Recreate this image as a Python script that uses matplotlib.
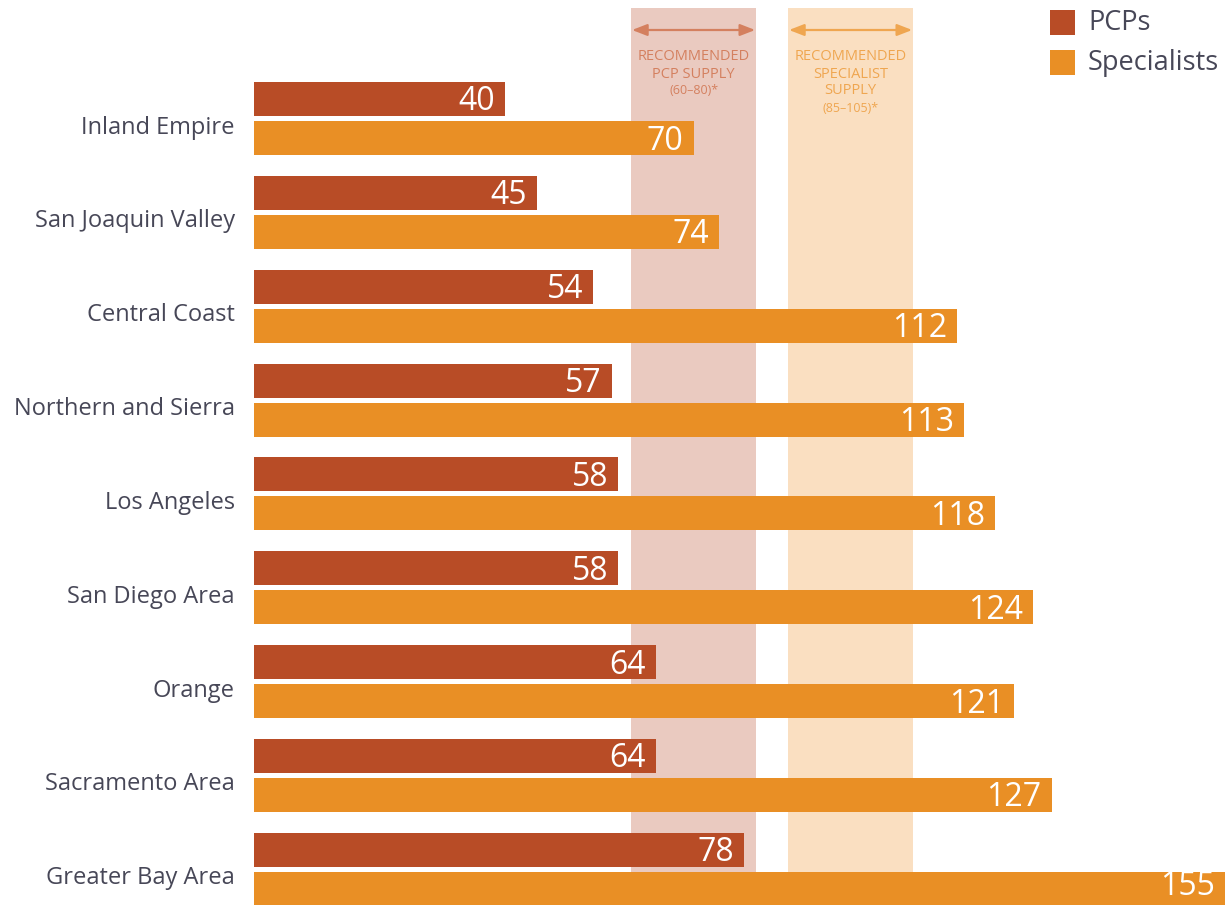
import matplotlib.pyplot as plt
from matplotlib.patches import Rectangle

plt.rcParams['font.family'] = ['Open Sans', 'DejaVu Sans']

regions = ['Inland Empire', 'San Joaquin Valley', 'Central Coast',
           'Northern and Sierra', 'Los Angeles', 'San Diego Area',
           'Orange', 'Sacramento Area', 'Greater Bay Area']
pcps = [40, 45, 54, 57, 58, 58, 64, 64, 78]
specialists = [70, 74, 112, 113, 118, 124, 121, 127, 155]
pcp_range = (60, 80)
spec_range = (85, 105)

PCP_COLOR = '#B84C26'
SPEC_COLOR = '#E98F25'
PCP_BAND = '#EACAC0'
SPEC_BAND = '#FADFC1'
PCP_BAND_TXT = '#D4805F'
SPEC_BAND_TXT = '#EFA650'
LABEL_COLOR = '#474757'

W, H = 1225, 905
x0_px = 254
px_per_unit = 6.28

fig = plt.figure(figsize=(W / 100, H / 100), dpi=100)
ax = fig.add_axes([x0_px / W, 0, (W - x0_px) / W, 1])
ax.set_xlim(0, (W - x0_px) / px_per_unit)
ax.set_ylim(H, 0)
ax.axis('off')

# recommended supply bands
top = 1 - 8 / H
ax.axvspan(*pcp_range, ymin=0, ymax=top, color=PCP_BAND, lw=0, zorder=0)
ax.axvspan(*spec_range, ymin=0, ymax=top, color=SPEC_BAND, lw=0, zorder=0)

for rng, col, lines in [(pcp_range, PCP_BAND_TXT, ['RECOMMENDED', 'PCP SUPPLY', '(60\u201380)*']),
                        (spec_range, SPEC_BAND_TXT, ['RECOMMENDED', 'SPECIALIST', 'SUPPLY', '(85\u2013105)*'])]:
    mid = (rng[0] + rng[1]) / 2
    ax.annotate('', xy=(rng[0] + 0.2, 30), xytext=(rng[1] - 0.2, 30),
                arrowprops=dict(arrowstyle='<|-|>,head_length=0.9,head_width=0.35',
                                color=col, lw=1.6, shrinkA=0, shrinkB=0), zorder=1)
    for k, line in enumerate(lines):
        small = line.startswith('(')
        ax.text(mid, 57 + k * 17, line, ha='center', va='center',
                fontsize=9 if small else 10.5, color=col, zorder=1)

# bars
pitch = 93.85
bar_h = 34
pcp_y = [99 + i * pitch for i in range(len(regions))]
spec_y = [138 + i * pitch for i in range(len(regions))]

ax.barh(pcp_y, pcps, height=bar_h, color=PCP_COLOR, zorder=2)
ax.barh(spec_y, specialists, height=bar_h, color=SPEC_COLOR, zorder=2)

pad = 10 / px_per_unit
xmax = ax.get_xlim()[1]
for y, v in zip(pcp_y, pcps):
    ax.text(v - pad, y + 3, str(v), ha='right', va='center',
            fontsize=23, color='white', zorder=3)
for y, v in zip(spec_y, specialists):
    # keep the last label inside the figure
    ax.text(min(v, xmax) - pad, min(y + 3, H - 19), str(v), ha='right', va='center',
            fontsize=23, color='white', zorder=3)

for name, yp, ys in zip(regions, pcp_y, spec_y):
    ax.text(-19 / px_per_unit, (yp + ys) / 2 + 9, name, ha='right', va='center',
            fontsize=17, color=LABEL_COLOR, clip_on=False)

# legend
for k, (lab, col) in enumerate([('PCPs', PCP_COLOR), ('Specialists', SPEC_COLOR)]):
    y_top = 10 + k * 40
    fig.add_artist(Rectangle((1050 / W, 1 - (y_top + 25) / H), 25 / W, 25 / H,
                             transform=fig.transFigure, color=col, lw=0))
    fig.text(1088 / W, 1 - (y_top + 13) / H, lab, ha='left', va='center',
             fontsize=19.5, color=LABEL_COLOR)

fig.savefig('out.png', dpi=100)
